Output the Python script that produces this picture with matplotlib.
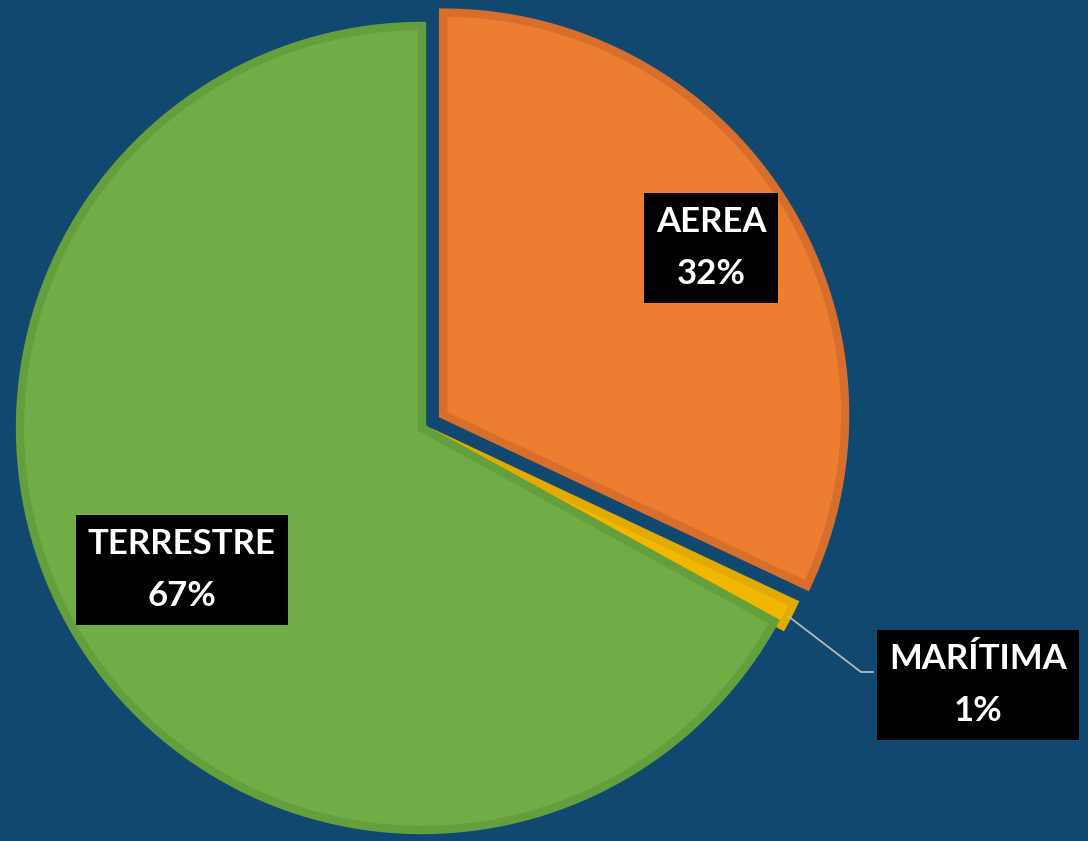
import matplotlib.pyplot as plt

labels = ['AEREA', 'MARÍTIMA', 'TERRESTRE']
values = [32, 1, 67]
colors = ['#ED7D31', '#F2B800', '#70AD47']
edges = ['#D86E2C', '#E3AA00', '#649F3E']
explode = [25, 9, 0]   # offsets in pixels (data units here)

bg = '#114870'
W, H = 1088, 841

fig = plt.figure(figsize=(W / 100, H / 100), dpi=100, facecolor=bg)
ax = fig.add_axes([0, 0, 1, 1])
ax.set_facecolor(bg)

cx, cy = 422, H - 428
R = 402
wedges, _ = ax.pie(values, colors=colors, startangle=90, counterclock=False,
                   explode=explode, radius=R, center=(cx, cy), frame=True,
                   wedgeprops=dict(linewidth=6, joinstyle='miter'))
for w, ec in zip(wedges, edges):
    w.set_edgecolor(ec)
ax.set_xlim(0, W)
ax.set_ylim(0, H)
ax.axis('off')

# label positions in pixels (y measured from top)
pos = {'AEREA': (711, 248), 'MARÍTIMA': (978, 685), 'TERRESTRE': (182, 570)}
for lab, v in zip(labels, values):
    x, y = pos[lab]
    ax.text(x, H - y, f'{lab}\n{v}%', ha='center', va='center', color='white',
            fontsize=25, fontweight='bold', family=['Lato', 'DejaVu Sans'],
            linespacing=1.8,
            bbox=dict(boxstyle='square,pad=0.35', facecolor='black', edgecolor='none'))

# leader line for MARÍTIMA
ax.plot([788, 861, 873], [H - 616, H - 672, H - 672], color='#B8B8B8', lw=1.3)

fig.savefig('out.png', dpi=100, facecolor=bg)
